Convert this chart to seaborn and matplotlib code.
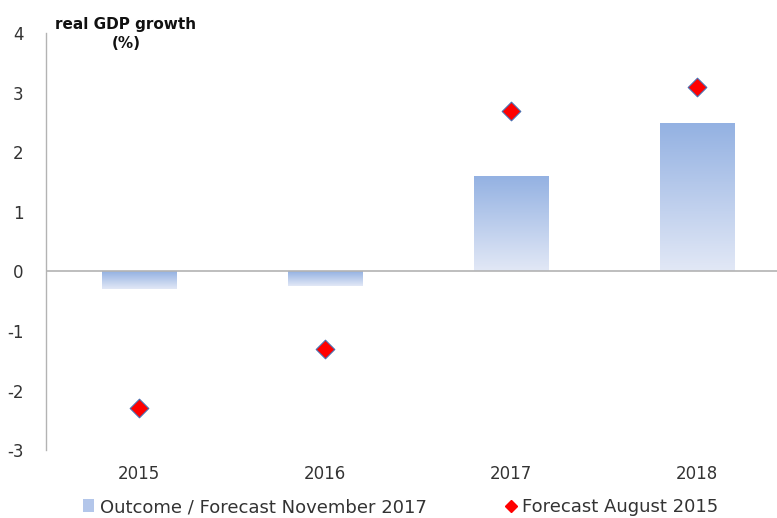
import numpy as np
import pandas as pd
import seaborn as sns
import matplotlib.pyplot as plt
from matplotlib.colors import LinearSegmentedColormap
from matplotlib.patches import Patch
from matplotlib.lines import Line2D

# ---- data ----
years = ["2015", "2016", "2017", "2018"]
outcome_nov2017 = [-0.3, -0.25, 1.6, 2.5]
forecast_aug2015 = [-2.3, -1.3, 2.7, 3.1]

df = pd.DataFrame({"year": years, "outcome": outcome_nov2017, "forecast": forecast_aug2015})

sns.set_style("white")
plt.rcParams["font.family"] = ["DejaVu Sans"]
plt.rcParams["axes.unicode_minus"] = False

fig = plt.figure(figsize=(7.77, 5.18), dpi=100)
# axes runs a little past the right edge of the figure, as in the original
ax = fig.add_axes([46 / 777, 0.131, 744 / 777, 0.805])

sns.barplot(data=df, x="year", y="outcome", ax=ax, width=0.40, color="#a9bfe8",
            saturation=1, edgecolor="none")

# gradient fill on bars: darker at top, lighter at bottom
cmap = LinearSegmentedColormap.from_list("grad", ["#e2e8f6", "#93b1e2"])
grad = np.linspace(0, 1, 256).reshape(-1, 1)
for bar in ax.patches:
    x0, y0 = bar.get_x(), bar.get_y()
    w, h = bar.get_width(), bar.get_height()
    ylo, yhi = min(y0, y0 + h), max(y0, y0 + h)
    bar.set_facecolor("none")
    im = ax.imshow(grad, cmap=cmap, aspect="auto", origin="lower",
                   extent=[x0, x0 + w, ylo, yhi], zorder=2)
    im.set_clip_path(bar)

sns.scatterplot(data=df, x="year", y="forecast", ax=ax, marker="D", s=90,
                color="#ff0000", edgecolor="#4a6fb0", linewidth=0.8, zorder=4)

ax.set_xlim(-0.5, 3.5)
ax.set_ylim(-3, 4)
ax.set_yticks(range(-3, 5))
ax.axhline(0, color="#b3b3b3", lw=1.2, zorder=3)
for s in ["top", "right", "bottom"]:
    ax.spines[s].set_visible(False)
ax.spines["left"].set_color("#b3b3b3")
ax.spines["left"].set_linewidth(1)
ax.tick_params(axis="both", length=0, labelsize=12, labelcolor="#333333")
ax.tick_params(axis="y", pad=16)
ax.tick_params(axis="x", pad=11)
ax.set_xlabel("")
ax.set_ylabel("")

fig.text(126 / 777, 1 - 17 / 518, "real GDP growth\n(%)", ha="center", va="top",
         fontsize=11, fontweight="bold", color="#111111", linespacing=1.3)

handles = [
    Patch(facecolor="#b3c6ea", edgecolor="none", label="Outcome / Forecast November 2017"),
    Line2D([], [], marker="D", color="none", markerfacecolor="#ff0000",
           markeredgecolor="#ff0000", markersize=6, label="Forecast August 2015"),
]
fig.legend(handles=handles, loc="center", bbox_to_anchor=(0.516, 1 - 507 / 518), ncol=2,
           frameon=False, fontsize=13, handlelength=0.6, handletextpad=0.3,
           columnspacing=4.4, labelcolor="#333333")

fig.savefig("out.png", dpi=100)
